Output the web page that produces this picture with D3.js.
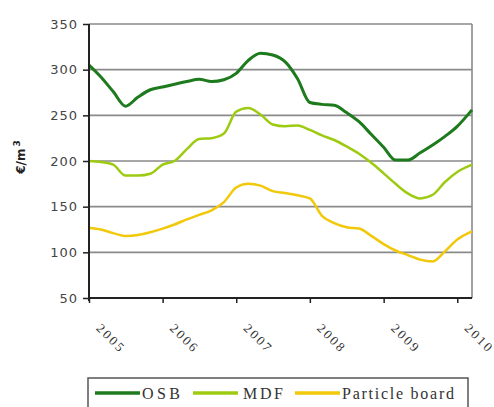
<!DOCTYPE html>
<meta charset="utf-8">
<style>
    body { margin: 0; background: #fff; }
    .ytick text { font: 13px "DejaVu Sans", sans-serif; fill: #444; letter-spacing: 1px; }
    .xtick text { font: 13px "Liberation Serif", serif; fill: #333; }
    .legend text { font: 16px "Liberation Serif", serif; fill: #333; }
</style>
<body>
<script src="https://cdn.jsdelivr.net/npm/d3@7"></script>
<script>
    // two-month steps
    var dates = ["2005-01-01","2005-03-01","2005-05-01","2005-07-01","2005-09-01","2005-11-01",
                 "2006-01-01","2006-03-01","2006-05-01","2006-07-01","2006-09-01","2006-11-01",
                 "2007-01-01","2007-03-01","2007-05-01","2007-07-01","2007-09-01","2007-11-01",
                 "2008-01-01","2008-03-01","2008-05-01","2008-07-01","2008-09-01","2008-11-01",
                 "2009-01-01","2009-03-01","2009-05-01","2009-07-01","2009-09-01","2009-11-01",
                 "2010-01-01","2010-03-15"];

    var osb = [305, 292, 276, 260, 270, 278, 281, 284, 287, 289.5, 287, 289,
               296, 310, 318, 316, 308.5, 290, 264, 262, 261, 253, 243, 229,
               215, 201, 201, 209, 217.5, 227, 238, 256];

    var mdf = [200, 199, 196, 184, 184, 186, 196, 200, 213, 224, 225, 230,
               254, 258, 251, 240, 238, 239, 234, 228, 223, 216, 208, 198,
               186.5, 175, 164.5, 159, 163, 177, 188, 196];

    var particle = [127, 125, 121, 118, 119, 122, 126, 130.5, 136, 141, 146, 155,
                    171, 175, 173, 167, 165, 162.5, 159, 140, 132, 127.5, 126, 118,
                    109, 102, 97, 92, 90, 101, 114, 123];

    var yTicks = [50, 100, 150, 200, 250, 300, 350];
    var xTicks = ["2005", "2006", "2007", "2008", "2009", "2010"];

    var seriesNames = ["OSB", "MDF", "Particle board"];
    var seriesColors = ["#1d7a1d", "#9dcb12", "#f2c80a"];
    var seriesWidths = [3, 2.5, 2.5];

    var margin = {top: 24, right: 22, bottom: 109, left: 89},
        width = 494 - margin.left - margin.right,
        height = 407 - margin.top - margin.bottom;

    var parseDate = d3.timeParse("%Y-%m-%d");
    var parseYear = d3.timeParse("%Y");
    var t = dates.map(parseDate);

    var x = d3.scaleTime()
            .domain([t[0], t[t.length - 1]])
            .range([0, width]);

    var y = d3.scaleLinear()
            .domain([50, 350])
            .range([height, 0]);

    var svg = d3.select("body").append("svg")
                .attr("width", 494)
                .attr("height", 407);

    var g = svg.append("g")
               .attr("transform", "translate(" + margin.left + "," + margin.top + ")");

    // grid lines
    g.selectAll("line.grid").data(yTicks.slice(1))
        .enter().append("line")
        .attr("x1", 0).attr("x2", width)
        .attr("y1", d => y(d)).attr("y2", d => y(d))
        .attr("stroke", "#8a8a8a")
        .attr("stroke-width", 1.6);

    // right border
    g.append("line")
        .attr("x1", width).attr("x2", width)
        .attr("y1", 0).attr("y2", height)
        .attr("stroke", "#8a8a8a")
        .attr("stroke-width", 1.6);

    // series
    var line = d3.line()
        .x((d, i) => x(t[i]))
        .y(d => y(d))
        .curve(d3.curveMonotoneX);

    [osb, mdf, particle].forEach(function(vals, i) {
        g.append("path")
            .datum(vals)
            .attr("fill", "none")
            .attr("stroke", seriesColors[i])
            .attr("stroke-width", seriesWidths[i])
            .attr("stroke-linejoin", "round")
            .attr("d", line);
    });

    // y axis
    var yAxis = d3.axisLeft(y)
        .tickValues(yTicks)
        .tickSize(6)
        .tickPadding(5);

    var ya = g.append("g").attr("class", "ytick").call(yAxis);
    ya.select(".domain").remove();
    ya.selectAll(".tick line").attr("stroke", "#222").attr("stroke-width", 1.5);
    ya.append("line")
        .attr("x1", 0).attr("x2", 0)
        .attr("y1", 0).attr("y2", height + 3)
        .attr("stroke", "#222").attr("stroke-width", 2);

    // x axis
    var xAxis = d3.axisBottom(x)
        .tickValues(xTicks.map(parseYear))
        .tickSize(5)
        .tickFormat(d3.timeFormat("%Y"));

    var xa = g.append("g").attr("class", "xtick")
        .attr("transform", "translate(0," + height + ")")
        .call(xAxis);
    xa.select(".domain").remove();
    xa.selectAll(".tick line").attr("stroke", "#222").attr("stroke-width", 1.5);
    xa.append("line")
        .attr("x1", 0).attr("x2", width)
        .attr("y1", 0).attr("y2", 0)
        .attr("stroke", "#222").attr("stroke-width", 2);
    xa.selectAll(".tick text")
        .attr("y", 0).attr("dy", 0)
        .attr("text-anchor", "start")
        .attr("transform", "translate(6,31) rotate(45)")
        .attr("textLength", 33)
        .attr("lengthAdjust", "spacing");

    // y axis title
    var title = svg.append("text")
        .attr("transform", "translate(25,157) rotate(-90)")
        .attr("text-anchor", "middle")
        .style("font", "bold 12px 'DejaVu Sans', sans-serif")
        .style("fill", "#222");
    title.append("tspan").text("€/m");
    title.append("tspan").attr("dy", -5).attr("dx", 2).style("font-size", "9px").text("3");

    // legend
    var legend = svg.append("g").attr("class", "legend");
    legend.append("rect")
        .attr("x", 88).attr("y", 378)
        .attr("width", 380).attr("height", 40)
        .attr("fill", "none")
        .attr("stroke", "#555")
        .attr("stroke-width", 1.5);

    var legX = [95, 193, 295];
    var legW = [38, 40, 112];
    seriesNames.forEach(function(name, i) {
        legend.append("line")
            .attr("x1", legX[i]).attr("x2", legX[i] + 45)
            .attr("y1", 393).attr("y2", 393)
            .attr("stroke", seriesColors[i])
            .attr("stroke-width", 3.5);
        legend.append("text")
            .attr("x", legX[i] + 47 + (i === 1 ? 3 : 0))
            .attr("y", 399)
            .attr("textLength", legW[i])
            .attr("lengthAdjust", "spacing")
            .text(name);
    });
</script>
